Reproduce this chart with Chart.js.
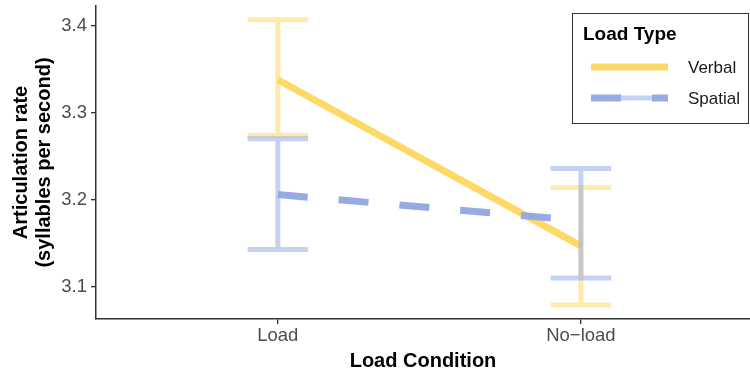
<!DOCTYPE html>
<html>
<head>
<meta charset="utf-8">
<script src="https://cdn.jsdelivr.net/npm/chart.js@4/dist/chart.umd.min.js"></script>
<style>
  html, body { margin: 0; padding: 0; background: #fff; }
  #wrap { width: 750px; height: 375px; }
</style>
</head>
<body>
<div id="wrap"><canvas id="chart" width="750" height="375"></canvas></div>
<script>
// data
const categories = ['Load', 'No\u2212load'];
const seriesNames = ['Verbal', 'Spatial'];
const verbalMean = [3.338, 3.147];
const verbalLow = [3.274, 3.079];
const verbalHigh = [3.407, 3.214];
const spatialMean = [3.206, 3.176];
const spatialLow = [3.143, 3.110];
const spatialHigh = [3.270, 3.236];
const yTicks = [3.1, 3.2, 3.3, 3.4];

const lineColors = ['#FFD966', '#96ABE3'];
const barColors = ['rgba(255,217,102,0.55)', 'rgba(150,171,227,0.55)'];
const FONT = "'Liberation Sans', Arial, Helvetica, sans-serif";

function pts(vals) {
    return vals.map((v, i) => ({x: i + 1, y: v}));
}

const errBars = [
    {low: verbalLow, high: verbalHigh},
    {low: spatialLow, high: spatialHigh}
];

const errorBarPlugin = {
    id: 'errorBars',
    afterDatasetsDraw(chart) {
        const ctx = chart.ctx;
        const xs = chart.scales.x, ys = chart.scales.y;
        ctx.save();
        ctx.lineWidth = 5;
        ctx.lineCap = 'butt';
        errBars.forEach((eb, s) => {
            ctx.strokeStyle = barColors[s];
            eb.low.forEach((lo, i) => {
                const hi = eb.high[i];
                const x = xs.getPixelForValue(i + 1);
                const xl = xs.getPixelForValue(i + 0.9);
                const xr = xs.getPixelForValue(i + 1.1);
                const yl = ys.getPixelForValue(lo);
                const yh = ys.getPixelForValue(hi);
                ctx.beginPath();
                ctx.moveTo(xl, yh); ctx.lineTo(xr, yh);
                ctx.moveTo(x, yh + 2.5); ctx.lineTo(x, yl - 2.5);
                ctx.moveTo(xl, yl); ctx.lineTo(xr, yl);
                ctx.stroke();
            });
        });
        ctx.restore();
    }
};

const legendPlugin = {
    id: 'boxLegend',
    afterDraw(chart) {
        const ctx = chart.ctx;
        ctx.save();
        ctx.strokeStyle = '#333';
        ctx.lineWidth = 1;
        ctx.strokeRect(572.5, 13.5, 176, 110);
        ctx.fillStyle = '#000';
        ctx.font = 'bold 19px ' + FONT;
        ctx.textBaseline = 'middle';
        ctx.textAlign = 'left';
        ctx.fillText('Load Type', 583, 35);
        ctx.font = '17px ' + FONT;
        seriesNames.forEach((name, s) => {
            const y = 67 + s * 31;
            ctx.lineWidth = 5;
            ctx.strokeStyle = barColors[s];
            ctx.beginPath(); ctx.moveTo(591, y); ctx.lineTo(668, y); ctx.stroke();
            ctx.lineWidth = 7;
            ctx.strokeStyle = lineColors[s];
            ctx.setLineDash(s === 1 ? [30, 31] : []);
            ctx.beginPath(); ctx.moveTo(591, y); ctx.lineTo(668, y); ctx.stroke();
            ctx.setLineDash([]);
            ctx.fillStyle = '#1a1a1a';
            ctx.fillText(name, 688, y + 1);
        });
        ctx.restore();
    }
};

new Chart(document.getElementById('chart'), {
    type: 'line',
    data: {
        datasets: [
            {
                label: seriesNames[0],
                data: pts(verbalMean),
                borderColor: lineColors[0],
                borderWidth: 7,
                pointRadius: 0,
                fill: false,
                tension: 0,
                order: 2
            },
            {
                label: seriesNames[1],
                data: pts(spatialMean),
                borderColor: lineColors[1],
                borderWidth: 7,
                borderDash: [30, 31],
                pointRadius: 0,
                fill: false,
                tension: 0,
                order: 1
            }
        ]
    },
    options: {
        responsive: false,
        animation: false,
        layout: {padding: {top: 6, right: 0, left: 0, bottom: 0}},
        plugins: {
            legend: {display: false},
            tooltip: {enabled: false}
        },
        scales: {
            x: {
                type: 'linear',
                min: 0.4,
                max: 2.558,
                afterBuildTicks(scale) {
                    scale.ticks = categories.map((c, i) => ({value: i + 1}));
                },
                afterFit(scale) {
                    scale.height = 56;
                    scale.paddingLeft = 0;
                    scale.paddingRight = 0;
                },
                grid: {display: true, drawOnChartArea: false, drawTicks: true, tickLength: 5, color: '#333', lineWidth: 1.3},
                border: {display: true, color: '#333', width: 1.5},
                ticks: {
                    color: '#4D4D4D',
                    font: {family: FONT, size: 18.5},
                    padding: 1,
                    maxRotation: 0,
                    callback: (v) => categories[v - 1]
                },
                title: {
                    display: true,
                    text: 'Load Condition',
                    color: '#000',
                    font: {family: FONT, size: 20, weight: 'bold'},
                    padding: {top: 0, bottom: 2}
                }
            },
            y: {
                min: 3.063,
                max: 3.4227,
                afterBuildTicks(scale) {
                    scale.ticks = yTicks.map(v => ({value: v}));
                },
                afterFit(scale) {
                    scale.width = 96;
                    scale.paddingTop = 0;
                    scale.paddingBottom = 0;
                },
                grid: {display: true, drawOnChartArea: false, drawTicks: true, tickLength: 5, color: '#333', lineWidth: 1.3},
                border: {display: true, color: '#333', width: 1.5},
                ticks: {
                    color: '#4D4D4D',
                    font: {family: FONT, size: 18.5},
                    padding: 4,
                    callback: (v) => v.toFixed(1)
                },
                title: {
                    display: true,
                    text: ['Articulation rate', '(syllables per second)'],
                    color: '#000',
                    font: {family: FONT, size: 20, weight: 'bold', lineHeight: 1.15},
                    padding: {top: 10, bottom: 0}
                }
            }
        }
    },
    plugins: [errorBarPlugin, legendPlugin]
});
</script>
</body>
</html>
